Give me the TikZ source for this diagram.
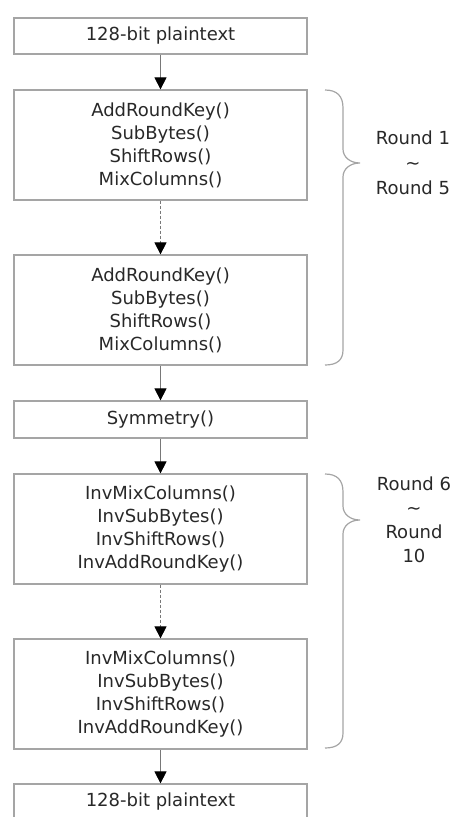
\documentclass[tikz,border=0pt]{standalone}
\usepackage{fontspec}
\setmainfont{DejaVu Sans}
\usetikzlibrary{arrows.meta}

\definecolor{boxgray}{RGB}{165,165,165}
\definecolor{linegray}{RGB}{120,120,120}
\definecolor{textgray}{RGB}{40,40,40}

\tikzset{
  funcbox/.style={draw=boxgray, line width=1.2pt, minimum width=293pt, inner sep=0pt,
    align=center, text=textgray, font=\fontsize{18}{23}\selectfont},
  flow/.style={draw=linegray, line width=0.8pt, -{Triangle[width=12pt,length=12pt,color=black]}},
  flowdash/.style={flow, dash pattern=on 3pt off 2pt},
  roundbrace/.style={draw=boxgray, line width=1.2pt},
  roundlabel/.style={align=center, text=textgray, inner sep=0pt}
}

\begin{document}
\begin{tikzpicture}[x=1pt,y=-1pt]
\useasboundingbox (0,0) rectangle (460,817);

%Shape: Rectangle [plaintext in]
\node [funcbox, minimum height=36pt] (plainin) at (160.5,36) {128-bit plaintext};
%Shape: Rectangle [first round]
\node [funcbox, minimum height=110pt] (encfirst) at (160.5,145) {AddRoundKey()\\SubBytes()\\ShiftRows()\\MixColumns()};
%Shape: Rectangle [fifth round]
\node [funcbox, minimum height=110pt] (enclast) at (160.5,310) {AddRoundKey()\\SubBytes()\\ShiftRows()\\MixColumns()};
%Shape: Rectangle [symmetry]
\node [funcbox, minimum height=37pt] (symm) at (160.5,419.5) {Symmetry()};
%Shape: Rectangle [sixth round]
\node [funcbox, minimum height=110pt] (decfirst) at (160.5,529) {InvMixColumns()\\InvSubBytes()\\InvShiftRows()\\InvAddRoundKey()};
%Shape: Rectangle [tenth round]
\node [funcbox, minimum height=110pt] (declast) at (160.5,694) {InvMixColumns()\\InvSubBytes()\\InvShiftRows()\\InvAddRoundKey()};
%Shape: Rectangle [plaintext out]
\node [funcbox, minimum height=36pt] (plainout) at (160.5,802) {128-bit plaintext};

%Arrows
\draw [flow] (plainin) -- (encfirst);
\draw [flowdash] (encfirst) -- (enclast);
\draw [flow] (enclast) -- (symm);
\draw [flow] (symm) -- (decfirst);
\draw [flowdash] (decfirst) -- (declast);
\draw [flow] (declast) -- (plainout);

%Curve Lines [brace round 1-5]
\draw [roundbrace] (325,90) .. controls (337,90) and (343,96) .. (343,108) -- (343,149) .. controls (343,157) and (350,163) .. (360,163) .. controls (350,163) and (343,169) .. (343,177) -- (343,350) .. controls (343,360) and (337,365) .. (325,365);
%Curve Lines [brace round 6-10]
\draw [roundbrace] (325,474) .. controls (337,474) and (343,480) .. (343,492) -- (343,506) .. controls (343,514) and (350,520) .. (360,520) .. controls (350,520) and (343,526) .. (343,534) -- (343,733) .. controls (343,743) and (337,748) .. (325,748);

% Text Node
\node [roundlabel, font=\fontsize{18}{25}\selectfont] (roundsA) at (413,163) {Round 1\\\textasciitilde\\Round 5};
% Text Node
\node [roundlabel, font=\fontsize{18}{24}\selectfont] (roundsB) at (414,519.5) {Round 6\\\textasciitilde\\Round\\10};

\end{tikzpicture}
\end{document}
